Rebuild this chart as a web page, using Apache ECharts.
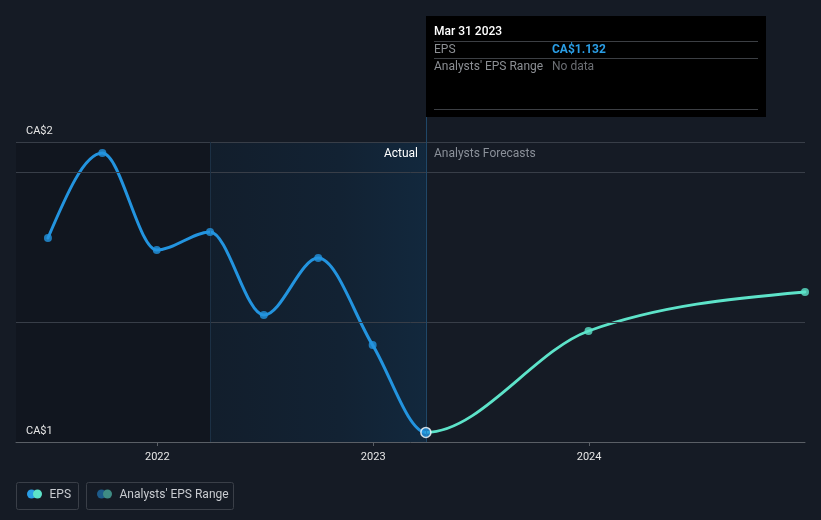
<!DOCTYPE html>
<html>
<head>
<meta charset="utf-8">
<script src="https://cdn.jsdelivr.net/npm/echarts@6/dist/echarts.min.js"></script>
<style>
html,body{margin:0;padding:0;background:#151b25;}
#c{width:821px;height:520px;}
</style>
</head>
<body>
<div id="c"></div>
<script>
// ---- data ----
var actualDates = ['2021-06-30','2021-09-30','2021-12-31','2022-03-31','2022-06-30','2022-09-30','2022-12-31','2023-03-31'];
var actualEps = [1.78, 2.063, 1.74, 1.80, 1.523, 1.713, 1.423, 1.132];
var forecastDates = ['2023-03-31','2023-12-31','2024-12-31'];
var forecastEps = [1.132, 1.47, 1.60];
var yTickLabels = ['CA$1', 'CA$2'];
var yTickValues = [1.1, 2.1];
var gridValues = [2.1, 2.0, 1.5];
var pastStart = '2022-03-31';
var todayDate = '2023-03-31';
var axisMin = '2021-05-07';
var axisMax = '2024-12-31';
var tooltipTitle = 'Mar 31 2023';
var tooltipRows = [['EPS', 'CA$1.132'], ["Analysts' EPS Range", 'No data']];
var legendItems = ['EPS', "Analysts' EPS Range"];

var FONT = 'Roboto, "Noto Sans", sans-serif';
var BLUE = '#2394df', TEAL = '#5de3c9';

function ts(d) { return echarts.number.parseDate(d).getTime(); }

var chart = echarts.init(document.getElementById('c'), null, {renderer: 'canvas'});

// monotone-x cubic (d3 style) through pixel points, tangents from the combined sequence
function monotoneTangents(pts) {
  var n = pts.length, m = new Array(n);
  function sign(x) { return x < 0 ? -1 : 1; }
  for (var i = 1; i < n - 1; i++) {
    var h0 = pts[i][0] - pts[i - 1][0], h1 = pts[i + 1][0] - pts[i][0];
    var s0 = (pts[i][1] - pts[i - 1][1]) / h0, s1 = (pts[i + 1][1] - pts[i][1]) / h1;
    var p = (s0 * h1 + s1 * h0) / (h0 + h1);
    m[i] = (sign(s0) + sign(s1)) * Math.min(Math.abs(s0), Math.abs(s1), 0.5 * Math.abs(p)) || 0;
  }
  var hA = pts[1][0] - pts[0][0];
  m[0] = (3 * (pts[1][1] - pts[0][1]) / hA - m[1]) / 2;
  var hB = pts[n - 1][0] - pts[n - 2][0];
  m[n - 1] = (3 * (pts[n - 1][1] - pts[n - 2][1]) / hB - m[n - 2]) / 2;
  return m;
}
function segPath(pts, m, from, to) {
  var d = 'M' + pts[from][0] + ' ' + pts[from][1];
  for (var i = from; i < to; i++) {
    var dx = (pts[i + 1][0] - pts[i][0]) / 3;
    d += ' C' + (pts[i][0] + dx) + ' ' + (pts[i][1] + dx * m[i]) + ' ' +
      (pts[i + 1][0] - dx) + ' ' + (pts[i + 1][1] - dx * m[i + 1]) + ' ' +
      pts[i + 1][0] + ' ' + pts[i + 1][1];
  }
  return d;
}

var actualPoints = actualDates.map(function (d, i) {
  var p = {value: [ts(d), actualEps[i]]};
  if (d === todayDate) {
    p.symbolSize = 10;
    p.itemStyle = {color: BLUE, borderColor: '#ffffff', borderWidth: 1.5};
  }
  return p;
});
var forecastPoints = forecastDates.slice(1).map(function (d, i) {
  return {value: [ts(d), forecastEps[i + 1]]};
});

chart.setOption({
  backgroundColor: '#151b25',
  animation: false,
  grid: {left: 16, right: 16, top: 142, bottom: 78},
  xAxis: {
    type: 'time',
    min: ts(axisMin),
    max: ts(axisMax),
    minInterval: 365 * 24 * 3600 * 1000,
    axisLine: {show: true, lineStyle: {color: '#5a5f66', width: 1}},
    axisTick: {show: true, length: 4, lineStyle: {color: '#5a5f66'}},
    axisLabel: {color: '#e6e6e6', fontFamily: FONT, fontSize: 11, margin: 10,
      formatter: function (v) { return new Date(v).getFullYear() + ''; }},
    splitLine: {show: false}
  },
  yAxis: {
    type: 'value',
    min: 1.1,
    max: 2.1,
    axisLine: {show: false},
    axisTick: {show: false},
    axisLabel: {show: false},
    splitLine: {show: false}
  },
  series: [
    {
      type: 'line',
      name: 'host',
      data: actualDates.map(function (d, i) { return [ts(d), actualEps[i]]; }),
      showSymbol: false,
      lineStyle: {opacity: 0},
      silent: true,
      z: 1,
      markArea: {
        silent: true,
        data: [
          [{xAxis: ts(axisMin), itemStyle: {color: 'rgba(0,0,0,0.16)'}}, {xAxis: ts(pastStart)}],
          [{xAxis: ts(pastStart), itemStyle: {color: {type: 'linear', x: 0, y: 0, x2: 1, y2: 0,
            colorStops: [{offset: 0, color: 'rgba(18,30,44,1)'}, {offset: 0.6, color: 'rgba(18,34,51,1)'}, {offset: 1, color: 'rgba(18,40,61,1)'}]}}},
           {xAxis: ts(todayDate)}]
        ]
      },
      markLine: {
        silent: true, symbol: 'none', label: {show: false},
        data: gridValues.map(function (v) {
          return {yAxis: v, lineStyle: {color: '#383e48', width: 1, type: 'solid'}};
        }).concat([
          {xAxis: ts(pastStart), lineStyle: {color: '#1c3044', width: 1, type: 'solid'}},
          {xAxis: ts(todayDate), lineStyle: {color: '#1f4768', width: 1, type: 'solid'}}
        ])
      }
    },
    {
      type: 'custom',
      name: 'curves',
      coordinateSystem: 'cartesian2d',
      data: [[ts(todayDate), 1.132]],
      silent: true,
      z: 3,
      renderItem: function (params, api) {
        var all = actualDates.map(function (d, i) { return api.coord([ts(d), actualEps[i]]); });
        for (var k = 1; k < forecastDates.length; k++) all.push(api.coord([ts(forecastDates[k]), forecastEps[k]]));
        var m = monotoneTangents(all);
        var na = actualDates.length;
        return {
          type: 'group',
          children: [
            {type: 'path', shape: {pathData: segPath(all, m, 0, na - 1)},
              style: {fill: 'none', stroke: BLUE, lineWidth: 3, lineCap: 'round', lineJoin: 'round'}},
            {type: 'path', shape: {pathData: segPath(all, m, na - 1, all.length - 1)},
              style: {fill: 'none', stroke: TEAL, lineWidth: 2.8, lineCap: 'round', lineJoin: 'round'}}
          ]
        };
      }
    },
    {
      type: 'scatter',
      name: 'Analysts Forecasts',
      data: forecastPoints,
      symbol: 'circle',
      symbolSize: 8,
      itemStyle: {color: TEAL},
      z: 4
    },
    {
      type: 'scatter',
      name: 'EPS',
      data: actualPoints,
      symbol: 'circle',
      symbolSize: 8,
      itemStyle: {color: BLUE},
      z: 5
    }
  ]
});

// overlays computed from the chart's own scales
var pTop = chart.convertToPixel({gridIndex: 0}, [ts(todayDate), yTickValues[1]]);
var pBot = chart.convertToPixel({gridIndex: 0}, [ts(todayDate), yTickValues[0]]);
var tx = Math.round(pTop[0]);
var tipTop = 16, tipW = 340, tipH = 101;
var g = [];
var Z = 50;
// y labels
g.push({type: 'text', z: Z, x: 26, y: pTop[1] - 10.5, style: {text: yTickLabels[1], fill: '#e6e6e6', font: '11px ' + FONT, verticalAlign: 'middle'}});
g.push({type: 'text', z: Z, x: 26, y: pBot[1] - 11, style: {text: yTickLabels[0], fill: '#e6e6e6', font: '11px ' + FONT, verticalAlign: 'middle'}});
// Actual / Forecast labels
g.push({type: 'text', z: Z, x: tx - 8, y: pTop[1] + 12, style: {text: 'Actual', fill: '#ffffff', font: '12px ' + FONT, align: 'right', verticalAlign: 'middle'}});
g.push({type: 'text', z: Z, x: tx + 8, y: pTop[1] + 12, style: {text: 'Analysts Forecasts', fill: '#8a9099', font: '12px ' + FONT, align: 'left', verticalAlign: 'middle'}});
// crosshair extension above grid
g.push({type: 'line', z: Z, shape: {x1: tx + 0.5, y1: tipTop + tipH, x2: tx + 0.5, y2: pTop[1]}, style: {stroke: '#1f4768', lineWidth: 1}});
// tooltip box
g.push({type: 'rect', z: Z, shape: {x: tx, y: tipTop, width: tipW, height: tipH}, style: {fill: '#000000'}});
g.push({type: 'text', z: Z + 1, x: tx + 8, y: tipTop + 15.5, style: {text: tooltipTitle, fill: '#ffffff', font: '500 12px ' + FONT, verticalAlign: 'middle'}});
[25, 42, 93].forEach(function (dy) {
  g.push({type: 'line', z: Z + 1, shape: {x1: tx + 8, y1: tipTop + dy + 0.5, x2: tx + tipW - 8, y2: tipTop + dy + 0.5}, style: {stroke: '#3c3f44', lineWidth: 1}});
});
tooltipRows.forEach(function (r, i) {
  var yy = tipTop + 33.5 + i * 17;
  g.push({type: 'text', z: Z + 1, x: tx + 8, y: yy, style: {text: r[0], fill: '#8c8f94', font: '12px ' + FONT, verticalAlign: 'middle'}});
  g.push({type: 'text', z: Z + 1, x: tx + 126, y: yy, style: {text: r[1], fill: i === 0 ? '#2a9ee6' : '#6c6f74', font: (i === 0 ? 'bold ' : '') + '12px ' + FONT, verticalAlign: 'middle'}});
});
// legend
var legendBoxes = [{x: 16.5, w: 62, c1: '#2a9ee6', c2: '#5de3c9'}, {x: 86.5, w: 147, c1: '#1d5b8a', c2: '#3f8c84'}];
legendBoxes.forEach(function (b, i) {
  g.push({type: 'rect', z: Z, shape: {x: b.x, y: 482.5, width: b.w, height: 27, r: 2}, style: {fill: 'none', stroke: '#3a3f48', lineWidth: 1}});
  g.push({type: 'circle', z: Z, shape: {cx: b.x + 15, cy: 494, r: 4.5}, style: {fill: b.c1}});
  g.push({type: 'circle', z: Z, shape: {cx: b.x + 21, cy: 494, r: 4.5}, style: {fill: b.c2}});
  g.push({type: 'text', z: Z, x: b.x + 33, y: 495, style: {text: legendItems[i], fill: '#c8cbd0', font: '12px ' + FONT, verticalAlign: 'middle'}});
});
chart.setOption({graphic: g});
</script>
</body>
</html>
